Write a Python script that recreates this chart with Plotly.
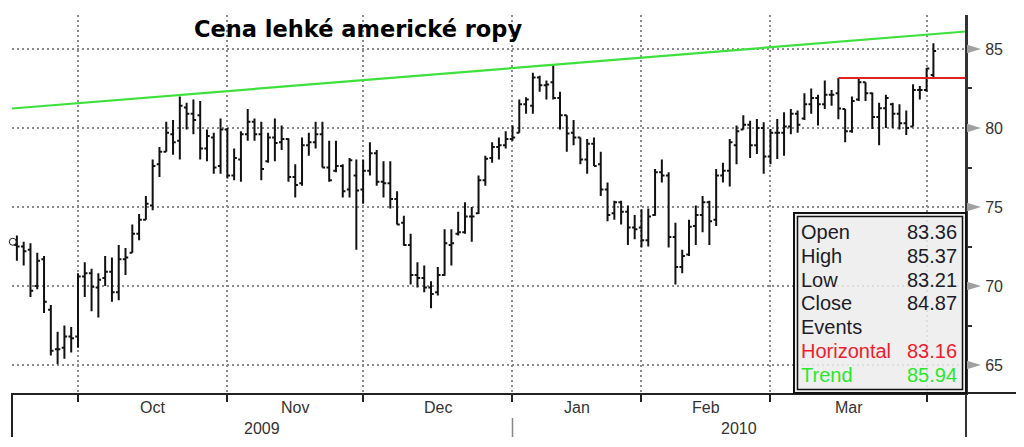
import plotly.graph_objects as go

# ---------------- data ----------------
dates = [
    "2009-09-17", "2009-09-18", "2009-09-21", "2009-09-22", "2009-09-23", "2009-09-24", "2009-09-25",
    "2009-09-28", "2009-09-29", "2009-09-30",
    "2009-10-01", "2009-10-02", "2009-10-05", "2009-10-06", "2009-10-07", "2009-10-08", "2009-10-09",
    "2009-10-12", "2009-10-13", "2009-10-14", "2009-10-15", "2009-10-16", "2009-10-19", "2009-10-20",
    "2009-10-21", "2009-10-22", "2009-10-23", "2009-10-26", "2009-10-27", "2009-10-28", "2009-10-29",
    "2009-10-30",
    "2009-11-02", "2009-11-03", "2009-11-04", "2009-11-05", "2009-11-06", "2009-11-09", "2009-11-10",
    "2009-11-11", "2009-11-12", "2009-11-13", "2009-11-16", "2009-11-17", "2009-11-18", "2009-11-19",
    "2009-11-20", "2009-11-23", "2009-11-24", "2009-11-25", "2009-11-27", "2009-11-30",
    "2009-12-01", "2009-12-02", "2009-12-03", "2009-12-04", "2009-12-07", "2009-12-08", "2009-12-09",
    "2009-12-10", "2009-12-11", "2009-12-14", "2009-12-15", "2009-12-16", "2009-12-17", "2009-12-18",
    "2009-12-21", "2009-12-22", "2009-12-23", "2009-12-24", "2009-12-28", "2009-12-29", "2009-12-30",
    "2009-12-31",
    "2010-01-04", "2010-01-05", "2010-01-06", "2010-01-07", "2010-01-08", "2010-01-11", "2010-01-12",
    "2010-01-13", "2010-01-14", "2010-01-15", "2010-01-19", "2010-01-20", "2010-01-21", "2010-01-22",
    "2010-01-25", "2010-01-26", "2010-01-27", "2010-01-28", "2010-01-29",
    "2010-02-01", "2010-02-02", "2010-02-03", "2010-02-04", "2010-02-05", "2010-02-08", "2010-02-09",
    "2010-02-10", "2010-02-11", "2010-02-12", "2010-02-16", "2010-02-17", "2010-02-18", "2010-02-19",
    "2010-02-22", "2010-02-23", "2010-02-24", "2010-02-25", "2010-02-26",
    "2010-03-01", "2010-03-02", "2010-03-03", "2010-03-04", "2010-03-05", "2010-03-08", "2010-03-09",
    "2010-03-10", "2010-03-11", "2010-03-12", "2010-03-15", "2010-03-16", "2010-03-17", "2010-03-18",
    "2010-03-19", "2010-03-22", "2010-03-23", "2010-03-24", "2010-03-25", "2010-03-26", "2010-03-29",
    "2010-03-30", "2010-03-31",
    "2010-04-01",
]

opens = [
    72.6, 72.5, 72.3, 70.0, 71.7, 68.5, 66.0, 66.1, 66.8, 66.8,
    70.6, 70.8, 69.9, 70.5, 70.9, 69.6, 71.7, 72.1, 73.3, 74.2, 75.1, 77.7, 78.5, 79.6, 79.2, 81.3,
    80.9, 80.8, 78.7, 79.4, 77.6, 79.9,
    77.0, 78.0, 79.6, 80.4, 79.6, 77.9, 79.4, 79.1, 79.3, 76.9, 76.5, 78.9, 79.1, 79.6, 77.5, 77.3,
    77.6, 76.1, 77.0, 76.1,
    77.3, 78.4, 76.6, 76.5, 75.5, 74.0, 72.6, 70.7, 70.5, 69.9, 69.6, 70.7, 72.6, 73.3, 73.4, 74.4,
    74.6, 76.7, 78.1, 78.8, 78.9, 79.3,
    79.7, 81.5, 81.4, 83.2, 82.7, 82.9, 81.9, 80.8, 79.7, 79.4, 78.0, 79.0, 77.7, 76.1, 74.6, 75.3,
    74.7, 73.7, 73.7,
    72.9, 74.5, 77.2, 77.0, 73.1, 71.2, 72.0, 73.8, 74.5, 75.3, 74.2, 77.0, 77.3, 78.9, 79.9, 80.2,
    78.9, 80.0, 78.2,
    79.7, 79.7, 80.1, 80.9, 80.6, 81.5, 81.9, 81.5, 82.1, 82.2, 81.2, 79.8, 81.8, 82.9, 82.2, 80.7,
    81.25, 81.5, 80.9, 80.3, 80.1, 82.4, 82.4,
    83.36,
]

highs = [
    73.2, 72.8, 72.7, 72.1, 71.9, 68.8, 67.1, 67.5, 67.4, 70.8,
    71.5, 71.1, 70.8, 71.9, 71.8, 72.6, 72.4, 73.9, 74.55, 75.7, 78.0, 78.8, 80.4, 80.5, 82.0, 81.6,
    81.8, 81.7, 79.9, 79.7, 80.6, 80.0,
    78.7, 79.8, 81.2, 80.6, 80.4, 79.7, 80.6, 80.15, 79.35, 77.7, 79.4, 79.7, 80.4, 80.4, 79.2, 79.2,
    77.7, 78.1, 78.0, 78.0,
    79.1, 78.6, 77.9, 77.9, 76.0, 74.45, 73.3, 71.5, 71.3, 70.3, 71.2, 73.6, 73.6, 74.7, 75.3, 75.0,
    77.0, 78.25, 79.1, 79.4, 79.8, 80.15,
    81.8, 81.95, 83.5, 83.3, 83.0, 84.05, 82.3, 80.8, 80.5, 79.4, 79.3, 79.4, 78.5, 76.55, 75.4, 75.4,
    75.1, 74.5, 74.86,
    74.9, 77.4, 78.0, 77.2, 74.0, 72.3, 74.2, 75.1, 75.7, 75.4, 77.4, 77.8, 79.3, 80.15, 80.8, 80.46,
    80.57, 80.36, 79.94,
    80.57, 81.0, 81.2, 81.1, 82.2, 82.5, 82.1, 83.0, 82.4, 83.16, 81.2, 82.0, 83.1, 82.9, 82.24,
    81.6, 82.1, 81.6, 81.5, 81.1, 82.76, 82.66, 83.8,
    85.37,
]

lows = [
    71.6, 71.3, 69.3, 69.8, 68.3, 65.6, 65.05, 65.4, 65.8, 66.1,
    69.3, 68.4, 68.0, 70.0, 69.0, 69.1, 70.7, 72.1, 72.9, 74.2, 74.8, 76.9, 78.5, 78.3, 78.0, 79.9,
    79.6, 78.0, 77.9, 77.1, 77.1, 76.8,
    76.7, 76.6, 79.2, 79.2, 76.7, 77.8, 77.9, 78.6, 76.6, 75.6, 76.35, 78.25, 78.7, 77.5, 76.6, 77.2,
    75.6, 75.6, 72.3, 75.2,
    77.0, 76.35, 75.6, 74.9, 73.9, 72.55, 70.1, 69.9, 69.6, 68.6, 69.4, 70.65, 71.3, 73.2, 73.3, 72.8,
    74.55, 76.35, 77.8, 78.0, 78.7, 79.2,
    79.7, 80.9, 80.9, 82.3, 81.8, 81.8, 79.9, 78.5, 78.9, 77.7, 77.1, 77.6, 75.7, 74.1, 74.2, 73.9,
    72.6, 72.96, 72.43,
    72.5, 74.44, 76.55, 72.43, 70.1, 70.8, 71.9, 72.6, 73.4, 72.6, 73.8, 76.55, 76.3, 77.7, 79.9, 78.1,
    78.35, 77.1, 77.7,
    78.03, 78.25, 79.6, 79.7, 80.5, 80.9, 80.15, 81.2, 81.4, 80.56, 79.1, 79.7, 81.7, 81.7, 79.94,
    78.9, 80.0, 80.0, 79.9, 79.56, 80.1, 81.8, 82.3,
    83.21,
]

closes = [
    72.5, 72.2, 69.7, 71.6, 69.0, 65.9, 66.0, 66.8, 66.7, 70.6,
    70.8, 69.95, 70.4, 70.9, 69.6, 71.7, 71.8, 73.3, 74.2, 75.2, 77.6, 78.5, 79.7, 79.1, 81.4, 80.9,
    80.5, 78.7, 79.5, 77.5, 79.9, 77.0,
    78.1, 79.6, 80.4, 79.6, 77.4, 79.4, 79.05, 79.3, 76.9, 76.4, 78.9, 79.1, 79.6, 77.5, 76.7, 77.6,
    76.0, 77.96, 76.05, 77.3,
    78.4, 76.6, 76.5, 75.5, 73.9, 72.6, 70.7, 70.5, 69.9, 69.5, 70.7, 72.7, 72.7, 73.4, 74.4, 74.4,
    76.7, 78.05, 78.8, 78.9, 79.3, 79.4,
    81.5, 81.8, 83.2, 82.7, 82.75, 81.9, 80.8, 79.65, 79.4, 78.0, 79.0, 77.6, 76.1, 74.5, 75.3, 74.7,
    73.7, 73.6, 72.9,
    74.4, 77.2, 77.0, 73.1, 71.2, 71.9, 73.75, 74.5, 75.3, 74.1, 77.0, 77.3, 79.1, 79.8, 80.2, 78.9,
    80.0, 78.2, 79.7,
    79.7, 80.1, 80.9, 80.2, 81.5, 81.9, 81.5, 82.1, 82.1, 81.24, 79.8, 81.7, 82.9, 82.2, 80.7,
    81.25, 81.9, 80.9, 80.3, 80.0, 82.4, 82.4, 83.76,
    84.87,
]

title_text = "Cena lehké americké ropy"
month_abbr = ["Jan", "Feb", "Mar", "Apr", "May", "Jun", "Jul", "Aug", "Sep", "Oct", "Nov", "Dec"]
y_tick_values = [65, 70, 75, 80, 85]
y_minor_values = [67.5, 72.5, 77.5, 82.5]

horizontal_level = 83.16
horizontal_start_date = "2010-03-12"
trend_anchor_dates = ["2009-10-21", "2010-04-01"]
trend_anchor_values = [82.09, 85.94]
cursor_value = 72.8

info_labels = ["Open", "High", "Low", "Close", "Events", "Horizontal", "Trend"]

# ---------------- layout constants ----------------
OFF = 8                      # page body margin offset (window px)
W, H = 1024 - OFF, 447 - OFF
ML, MR, MT, MB = 12 - OFF, 58, 15 - OFF, 54
PW, PH = W - ML - MR, H - MT - MB
X_MIN, X_MAX = -0.72, 139.8
Y_MIN, Y_MAX = 63.23, 87.15


def px_x(p):
    """window pixel x -> paper x"""
    return (p - OFF - ML) / PW


def px_y(p):
    """window pixel y -> paper y"""
    return (MT + PH - (p - OFF)) / PH


xs = list(range(len(dates)))
idx = {d: i for i, d in enumerate(dates)}

month_ends = [i for i in range(len(dates) - 1) if dates[i][:7] != dates[i + 1][:7]]

ta, tb = idx[trend_anchor_dates[0]], idx[trend_anchor_dates[1]]
slope = (trend_anchor_values[1] - trend_anchor_values[0]) / (tb - ta)


def trend_at(x):
    return trend_anchor_values[0] + slope * (x - ta)


fig = go.Figure()

fig.add_trace(go.Ohlc(
    x=xs, open=opens, high=highs, low=lows, close=closes,
    increasing=dict(line=dict(color="#111111", width=2)),
    decreasing=dict(line=dict(color="#111111", width=2)),
    tickwidth=0.4, hoverinfo="skip", showlegend=False,
))

hs = idx[horizontal_start_date]
fig.add_trace(go.Scatter(
    x=[hs, X_MAX], y=[horizontal_level, horizontal_level], mode="lines",
    line=dict(color="#e02424", width=2), showlegend=False, hoverinfo="skip", cliponaxis=False,
))

fig.add_trace(go.Scatter(
    x=[X_MIN, X_MAX], y=[trend_at(X_MIN), trend_at(X_MAX)], mode="lines",
    line=dict(color="#3de03d", width=2.2), showlegend=False, hoverinfo="skip", cliponaxis=False,
))

fig.add_trace(go.Scatter(
    x=[X_MIN + 0.12], y=[cursor_value], mode="markers",
    marker=dict(symbol="circle-open", size=7, color="#222222", line=dict(width=1)),
    showlegend=False, hoverinfo="skip", cliponaxis=False,
))

shapes = []
annotations = []

for v in y_tick_values:
    shapes.append(dict(type="path", xref="paper", yref="y",
                       path=f"M 1.001,{v - 0.27} L {px_x(981)},{v} L 1.001,{v + 0.27} Z",
                       fillcolor="#a0a0a0", line=dict(width=0), layer="above"))

shapes.append(dict(type="line", xref="paper", yref="paper", x0=1, x1=px_x(1024), y0=0, y1=0,
                   line=dict(color="#222222", width=2)))
shapes.append(dict(type="line", xref="paper", yref="paper", x0=1, x1=1, y0=px_y(437), y1=px_y(15),
                   line=dict(color="#333333", width=2)))
shapes.append(dict(type="line", xref="paper", yref="paper", x0=0, x1=0, y0=px_y(437), y1=0,
                   line=dict(color="#222222", width=2)))

year_change = [i for i in range(len(dates) - 1) if dates[i][:4] != dates[i + 1][:4]][0]
shapes.append(dict(type="line", xref="x", yref="paper", x0=year_change, x1=year_change,
                   y0=px_y(437), y1=px_y(418), line=dict(color="#888888", width=1.5)))

bx0, bx1, by0, by1 = px_x(794), 1.0, 0.0, px_y(213)
shapes.append(dict(type="rect", xref="paper", yref="paper", x0=bx0, x1=bx1, y0=by0, y1=by1,
                   fillcolor="rgba(236,236,236,0.85)", line=dict(color="#111111", width=2), layer="above"))
shapes.append(dict(type="rect", xref="paper", yref="paper",
                   x0=bx0 + 3.5 / PW, x1=bx1 - 3.5 / PW, y0=by0 + 3.5 / PH, y1=by1 - 3.5 / PH,
                   fillcolor="rgba(0,0,0,0)", line=dict(color="#111111", width=1.5), layer="above"))

label_font = dict(family="Liberation Sans, Arial", size=16, color="#333333")
for a, b in zip(month_ends[:-1], month_ends[1:]):
    m = int(dates[b][5:7])
    annotations.append(dict(x=(a + b) / 2, y=px_y(407), xref="x", yref="paper",
                            text=month_abbr[m - 1], showarrow=False, yanchor="middle", font=label_font))
annotations.append(dict(x=(X_MIN + year_change) / 2, y=px_y(428), xref="x", yref="paper",
                        text=dates[0][:4], showarrow=False, yanchor="middle", font=label_font))
annotations.append(dict(x=(year_change + X_MAX) / 2, y=px_y(428), xref="x", yref="paper",
                        text=dates[-1][:4], showarrow=False, yanchor="middle", font=label_font))

annotations.append(dict(x=px_x(357.5), y=px_y(29), xref="paper", yref="paper", text=f"<b>{title_text}</b>",
                        showarrow=False, xanchor="center", yanchor="middle",
                        font=dict(family="DejaVu Sans", size=22.5, color="#000000")))

info_values = [f"{opens[-1]:.2f}", f"{highs[-1]:.2f}", f"{lows[-1]:.2f}", f"{closes[-1]:.2f}", "",
               f"{horizontal_level:.2f}", f"{trend_at(len(dates) - 1):.2f}"]
info_colors = ["#1c1c28", "#1c1c28", "#1c1c28", "#1c1c28", "#1c1c28", "#ee1c2c", "#2ae82a"]
row_y = [232, 256, 279.5, 303, 327, 351, 374.5]
for lab, val, col, ry in zip(info_labels, info_values, info_colors, row_y):
    annotations.append(dict(x=px_x(799), y=px_y(ry), xref="paper", yref="paper", text=lab,
                            showarrow=False, xanchor="left", yanchor="middle",
                            font=dict(family="Liberation Sans, Arial", size=20, color=col)))
    if val:
        annotations.append(dict(x=px_x(959), y=px_y(ry), xref="paper", yref="paper", text=val,
                                showarrow=False, xanchor="right", yanchor="middle",
                                font=dict(family="Liberation Sans, Arial", size=20, color=col)))

fig.update_layout(
    width=W, height=H,
    margin=dict(l=ML, r=MR, t=MT, b=MB, pad=0),
    paper_bgcolor="white", plot_bgcolor="white",
    showlegend=False,
    shapes=shapes, annotations=annotations,
    xaxis=dict(
        range=[X_MIN, X_MAX], rangeslider=dict(visible=False),
        tickmode="array", tickvals=month_ends, showticklabels=False,
        ticks="outside", ticklen=7, tickwidth=2, tickcolor="#222222",
        showgrid=True, gridcolor="#8a8a8a", gridwidth=1.5, griddash="2px,3px",
        showline=True, linecolor="#222222", linewidth=2, zeroline=False,
    ),
    yaxis=dict(
        side="right", range=[Y_MIN, Y_MAX],
        tickmode="array", tickvals=y_tick_values, ticktext=[str(v) for v in y_tick_values],
        ticks="outside", ticklen=14, tickcolor="rgba(0,0,0,0)",
        minor=dict(tickmode="array", tickvals=y_minor_values, ticks="outside", ticklen=4,
                   tickwidth=1.5, tickcolor="#333333", showgrid=False),
        tickfont=dict(family="Liberation Sans, Arial", size=16, color="#333333"),
        showgrid=True, gridcolor="#8a8a8a", gridwidth=1.5, griddash="2px,3px",
        showline=True, linecolor="#333333", linewidth=2, zeroline=False,
    ),
)

fig.write_html("out.html")
